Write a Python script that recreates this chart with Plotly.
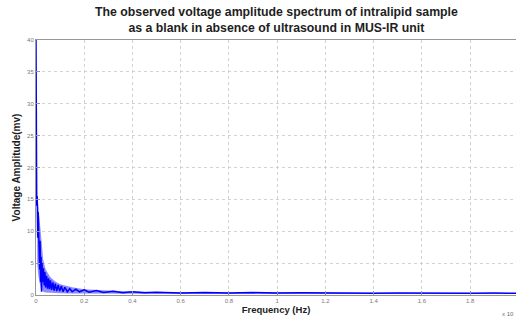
import plotly.graph_objects as go

# Frequency in units of 10^4 Hz
jag_x = [0, 0.001, 0.003, 0.005, 0.007, 0.009, 0.011, 0.013, 0.015, 0.017, 0.019,
         0.021, 0.023, 0.025, 0.028, 0.031, 0.034, 0.037, 0.040, 0.044, 0.048,
         0.052, 0.056, 0.060, 0.065, 0.070, 0.075, 0.080, 0.086, 0.092, 0.098,
         0.105, 0.112, 0.120, 0.130, 0.140, 0.150, 0.165, 0.18, 0.2, 0.22,
         0.25, 0.28, 0.32, 0.36, 0.4, 0.45, 0.5, 0.6, 0.7, 0.8,
         0.9, 1.0, 1.1, 1.2, 1.3, 1.4, 1.5, 1.6, 1.7, 1.8, 1.9, 1.99]
jag_y = [40, 26, 14, 15.5, 9, 13, 7, 10, 4, 8.5, 2,
         6, 0.5, 5, 2, 4.2, 1.5, 3.6, 1.2, 3, 1,
         2.6, 0.9, 2.3, 0.8, 2, 0.7, 1.8, 0.6, 1.6, 0.6,
         1.4, 0.5, 1.2, 0.5, 1.0, 0.5, 0.9, 0.5, 0.8, 0.45,
         0.7, 0.4, 0.6, 0.35, 0.5, 0.35, 0.45, 0.32, 0.4, 0.3,
         0.38, 0.3, 0.35, 0.3, 0.33, 0.28, 0.32, 0.28, 0.3, 0.27, 0.3, 0.27]

env_x = [0.005, 0.01, 0.02, 0.03, 0.04, 0.06, 0.08, 0.1, 0.15, 0.2, 0.3, 0.4, 0.6, 0.8, 1.0, 1.4, 1.99]
env_hi = [16, 14, 9, 5.5, 4, 2.8, 2.1, 1.7, 1.2, 0.9, 0.7, 0.55, 0.45, 0.4, 0.38, 0.35, 0.33]
env_lo = [5, 3, 1, 0.5, 0.4, 0.35, 0.3, 0.28, 0.25, 0.22, 0.2, 0.18, 0.17, 0.16, 0.15, 0.15, 0.15]

x_ticks = [0, 0.2, 0.4, 0.6, 0.8, 1.0, 1.2, 1.4, 1.6, 1.8]
x_labels = ["0", "0.2", "0.4", "0.6", "0.8", "1", "1.2", "1.4", "1.6", "1.8"]
y_ticks = [0, 5, 10, 15, 20, 25, 30, 35, 40]

title_text = ("The observed voltage amplitude spectrum of intralipid sample<br>"
              "as a blank in absence of ultrasound in MUS-IR unit")

fig = go.Figure()
fig.add_trace(go.Scatter(x=env_x, y=env_lo, mode="lines", line=dict(width=0),
                         showlegend=False, hoverinfo="skip"))
fig.add_trace(go.Scatter(x=env_x, y=env_hi, mode="lines", line=dict(width=0),
                         fill="tonexty", fillcolor="rgba(0,0,255,0.45)",
                         showlegend=False, hoverinfo="skip"))
fig.add_trace(go.Scatter(x=jag_x, y=jag_y, mode="lines",
                         line=dict(color="rgb(0,0,255)", width=1.5), showlegend=False))

axis_common = dict(showgrid=True, gridcolor="rgb(210,210,210)", griddash="dot", gridwidth=1,
                   showline=True, linecolor="rgb(150,150,150)", linewidth=1, mirror=True,
                   ticks="inside", ticklen=4, tickcolor="rgb(150,150,150)",
                   tickfont=dict(family="Liberation Sans, Arial", size=6, color="rgb(120,120,120)"),
                   zeroline=False)

fig.update_layout(
    width=516, height=320,
    margin=dict(l=36, r=0, t=40, b=25),
    paper_bgcolor="white", plot_bgcolor="white",
    xaxis=dict(range=[0, 1.99], tickvals=x_ticks, ticktext=x_labels,
               title=dict(text="<b>Frequency (Hz)</b>", standoff=2,
                          font=dict(family="Liberation Sans, Arial", size=9.5, color="rgb(30,30,30)")),
               **axis_common),
    yaxis=dict(range=[0, 40], tickvals=y_ticks,
               title=dict(text="<b>Voltage Amplitude(mv)</b>", standoff=4,
                          font=dict(family="Liberation Sans, Arial", size=10, color="rgb(30,30,30)")),
               **axis_common),
    annotations=[
        dict(text="<b>" + title_text.replace("<br>", "</b><br><b>") + "</b>",
             x=0.502, y=1.0, xref="paper", yref="paper", xanchor="center", yanchor="bottom",
             yshift=3, showarrow=False, align="center",
             font=dict(family="Liberation Sans, Arial", size=12.3, color="rgb(30,30,30)")),
        dict(text="x 10", x=1.0, y=0, xref="paper", yref="paper", xanchor="right",
             yanchor="top", yshift=-14, showarrow=False,
             font=dict(family="Liberation Sans, Arial", size=6, color="rgb(110,110,110)")),
    ],
)

fig.write_html("out.html")
